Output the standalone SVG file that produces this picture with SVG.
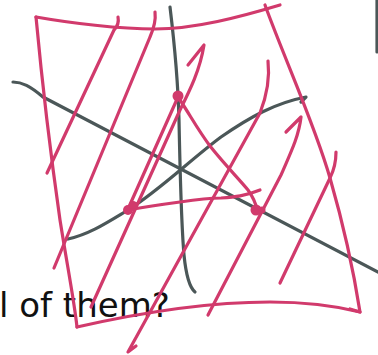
<svg xmlns="http://www.w3.org/2000/svg" width="378" height="355" viewBox="0 0 378 355">
<style>
.g{fill:none;stroke:#4b5758;stroke-width:3.2;stroke-linecap:round;stroke-linejoin:round}
.p{fill:none;stroke:#d13a6c;stroke-width:3.2;stroke-linecap:round;stroke-linejoin:round}
.d{fill:#d13a6c}
.t{font-family:"DejaVu Sans",sans-serif;font-size:34px;fill:#111}
</style>
<rect width="378" height="355" fill="#fff"/>
<text class="t" x="-1" y="317">l of them?</text>
<g id="axes">
<path class="g" d="M13,82 C22,82 30,86 43,97 L378,272"/>
<path class="g" d="M170,7 C174,40 178,80 179,120 C180,170 181,220 184,255 C186,275 189,287 195,292"/>
<path class="g" d="M68,239 C90,234 108,222 128,210 C160,190 190,160 221,137 C250,117 275,103 306,97 L301,102"/>
<path class="g" d="M377,0 L377,52"/>
</g>
<g id="region">
<path class="p" d="M36,17 C70,23 120,29 155,29 C195,29 240,17 280,5"/>
<path class="p" d="M36,17 C40,60 50,150 60,220 C68,270 74,300 77,327"/>
<path class="p" d="M77,327 C130,315 200,302 270,302 C310,302 340,307 360,312"/>
<path class="p" d="M265,5 C285,60 315,125 330,178 C345,230 355,280 360,312 L350,309"/>
</g>
<g id="hatching">
<path class="p" d="M118,17 C119,22 117,27 114,30 L47,173"/>
<path class="p" d="M155,12 C156,20 154,28 150,37 L54,268"/>
<path class="p" d="M178,97 L128,209"/>
<path class="p" d="M188,65 L204,45 C200,70 190,90 180,110 L91,307"/>
<path class="p" d="M268,61 C270,78 267,95 260,113 L128,352 L136,346"/>
<path class="p" d="M286,132 L301,117 C299,135 292,150 281,175 L208,315"/>
<path class="p" d="M336,152 C336,160 334,170 330,178 L280,283"/>
<path class="p" d="M180,100 C190,115 198,130 210,146 C225,165 240,180 248,190 C253,197 256,204 257,210"/>
<path class="p" d="M128,210 C150,206 165,204 180,202 C200,199 210,198 221,198 C235,197 245,196 260,190"/>
</g>
<g id="points">
<circle class="d" cx="178" cy="96" r="5.5"/>
<circle class="d" cx="128" cy="210" r="5"/>
<circle class="d" cx="133" cy="205" r="4"/>
<circle class="d" cx="256" cy="210" r="5.5"/>
<circle class="d" cx="262" cy="210" r="3.5"/>
</g>
</svg>
